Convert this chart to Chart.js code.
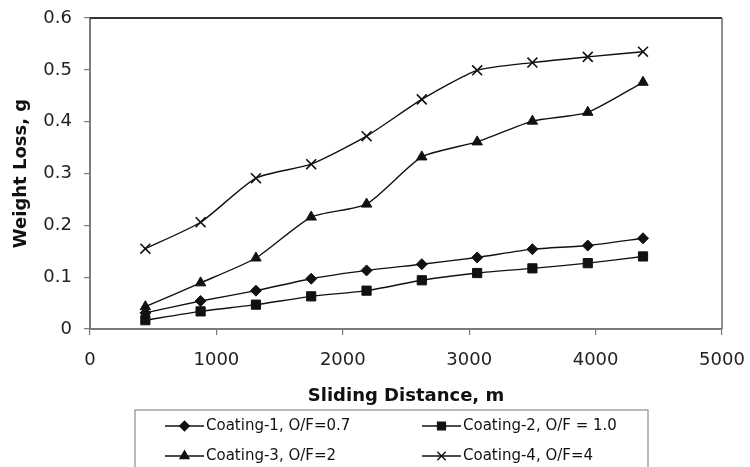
<!DOCTYPE html>
<html>
<head>
<meta charset="utf-8">
<script src="https://cdn.jsdelivr.net/npm/chart.js@4/dist/chart.umd.min.js"></script>
<style>
  html, body { margin: 0; padding: 0; background: #fff; }
  canvas { display: block; }
</style>
</head>
<body>
<canvas id="wear" width="750" height="467"></canvas>
<script>
// sliding distance (m) at each weighing
const distance = [438, 875, 1313, 1750, 2188, 2625, 3063, 3500, 3938, 4375];

// weight loss (g) per coating
const coating1 = [0.031, 0.054, 0.074, 0.097, 0.113, 0.125, 0.138, 0.154, 0.161, 0.175];
const coating2 = [0.017, 0.034, 0.047, 0.063, 0.074, 0.094, 0.108, 0.117, 0.127, 0.140];
const coating3 = [0.043, 0.089, 0.137, 0.216, 0.241, 0.332, 0.361, 0.401, 0.418, 0.476];
const coating4 = [0.155, 0.206, 0.291, 0.318, 0.372, 0.443, 0.499, 0.514, 0.525, 0.535];

const seriesNames = ["Coating-1, O/F=0.7", "Coating-2, O/F = 1.0", "Coating-3, O/F=2", "Coating-4, O/F=4"];
const xTicks = [0, 1000, 2000, 3000, 4000, 5000];
const yTicks = [0, 0.1, 0.2, 0.3, 0.4, 0.5, 0.6];

const FONT = "'DejaVu Sans', Arial, sans-serif";
const AXIS_GRAY = "#7a7a7a";

function pts(ys) {
  return ys.map((y, i) => ({ x: distance[i], y: y }));
}

function series(label, ys, style, radius) {
  return {
    label: label,
    data: pts(ys),
    borderColor: "#111",
    borderWidth: 1.4,
    backgroundColor: "#111",
    pointStyle: style,
    pointRadius: radius,
    pointBorderColor: "#111",
    pointBackgroundColor: "#111",
    pointBorderWidth: style === "crossRot" ? 1.6 : 1,
    tension: 0.2,
  };
}

// plot frame: dark top edge, grey right edge
const frame = {
  id: "frame",
  afterDatasetsDraw(chart) {
    const { ctx, chartArea: a } = chart;
    ctx.save();
    ctx.lineWidth = 2;
    ctx.strokeStyle = "#333";
    ctx.beginPath();
    ctx.moveTo(a.left, a.top);
    ctx.lineTo(a.right, a.top);
    ctx.stroke();
    ctx.lineWidth = 1.5;
    ctx.strokeStyle = "#6a6a6a";
    ctx.beginPath();
    ctx.moveTo(a.right, a.top);
    ctx.lineTo(a.right, a.bottom);
    ctx.stroke();
    ctx.restore();
  },
};

// boxed two-column legend under the x axis title
const boxLegend = {
  id: "boxLegend",
  afterDraw(chart) {
    const ctx = chart.ctx;
    const box = { left: 135, top: 410, right: 648, bottom: 480 };
    const cols = [165, 422];
    const rows = [426, 456];
    ctx.save();
    ctx.strokeStyle = "#8a8a8a";
    ctx.lineWidth = 1.2;
    ctx.strokeRect(box.left, box.top, box.right - box.left, box.bottom - box.top);
    ctx.font = "15px " + FONT;
    ctx.textBaseline = "middle";
    chart.data.datasets.forEach((ds, i) => {
      const x = cols[i % 2];
      const y = rows[Math.floor(i / 2)];
      ctx.strokeStyle = "#111";
      ctx.lineWidth = 1.4;
      ctx.beginPath();
      ctx.moveTo(x, y);
      ctx.lineTo(x + 39, y);
      ctx.stroke();
      ctx.fillStyle = "#111";
      Chart.helpers.drawPoint(ctx, {
        pointStyle: ds.pointStyle,
        radius: ds.pointRadius * 0.85,
        borderWidth: ds.pointBorderWidth,
        rotation: 0,
      }, x + 19.5, y);
      ctx.fillStyle = "#111";
      ctx.fillText(ds.label, x + 41, y);
    });
    ctx.restore();
  },
};

new Chart(document.getElementById("wear"), {
  type: "line",
  data: {
    datasets: [
      series(seriesNames[0], coating1, "rectRot", 5.5),
      series(seriesNames[1], coating2, "rect", 6.5),
      series(seriesNames[2], coating3, "triangle", 6),
      series(seriesNames[3], coating4, "crossRot", 7),
    ],
  },
  options: {
    responsive: false,
    animation: false,
    devicePixelRatio: 1,
    layout: { padding: { top: 18, right: 28, left: 0, bottom: 57 } },
    plugins: {
      legend: { display: false },
      tooltip: { enabled: false },
    },
    scales: {
      x: {
        type: "linear",
        min: 0,
        max: 5000,
        afterFit: (s) => { s.height = 81; s.paddingLeft = 0; s.paddingRight = 0; },
        afterBuildTicks: (s) => { s.ticks = xTicks.map((v) => ({ value: v })); },
        border: { color: AXIS_GRAY, width: 2 },
        grid: { drawOnChartArea: false, drawTicks: true, tickLength: 6, color: AXIS_GRAY, lineWidth: 1.2 },
        ticks: {
          color: "#222",
          padding: 15,
          font: { family: FONT, size: 18 },
          callback: (v) => String(v),
        },
        title: {
          display: true,
          text: "Sliding Distance, m",
          color: "#111",
          padding: { top: 0, bottom: 3 },
          font: { family: FONT, size: 18, weight: "bold" },
        },
      },
      y: {
        min: 0,
        max: 0.6,
        afterFit: (s) => { s.width = 90; s.paddingTop = 0; s.paddingBottom = 0; },
        afterBuildTicks: (s) => { s.ticks = yTicks.map((v) => ({ value: v })); },
        border: { color: AXIS_GRAY, width: 2 },
        grid: { drawOnChartArea: false, drawTicks: true, tickLength: 6, color: AXIS_GRAY, lineWidth: 1.2 },
        ticks: {
          color: "#222",
          padding: 12,
          font: { family: FONT, size: 18 },
          callback: (v) => (v === 0 ? "0" : v.toFixed(1)),
        },
        title: {
          display: true,
          text: "Weight Loss, g",
          color: "#111",
          padding: { top: 11, bottom: 0 },
          font: { family: FONT, size: 18, weight: "bold" },
        },
      },
    },
  },
  plugins: [frame, boxLegend],
});
</script>
</body>
</html>
